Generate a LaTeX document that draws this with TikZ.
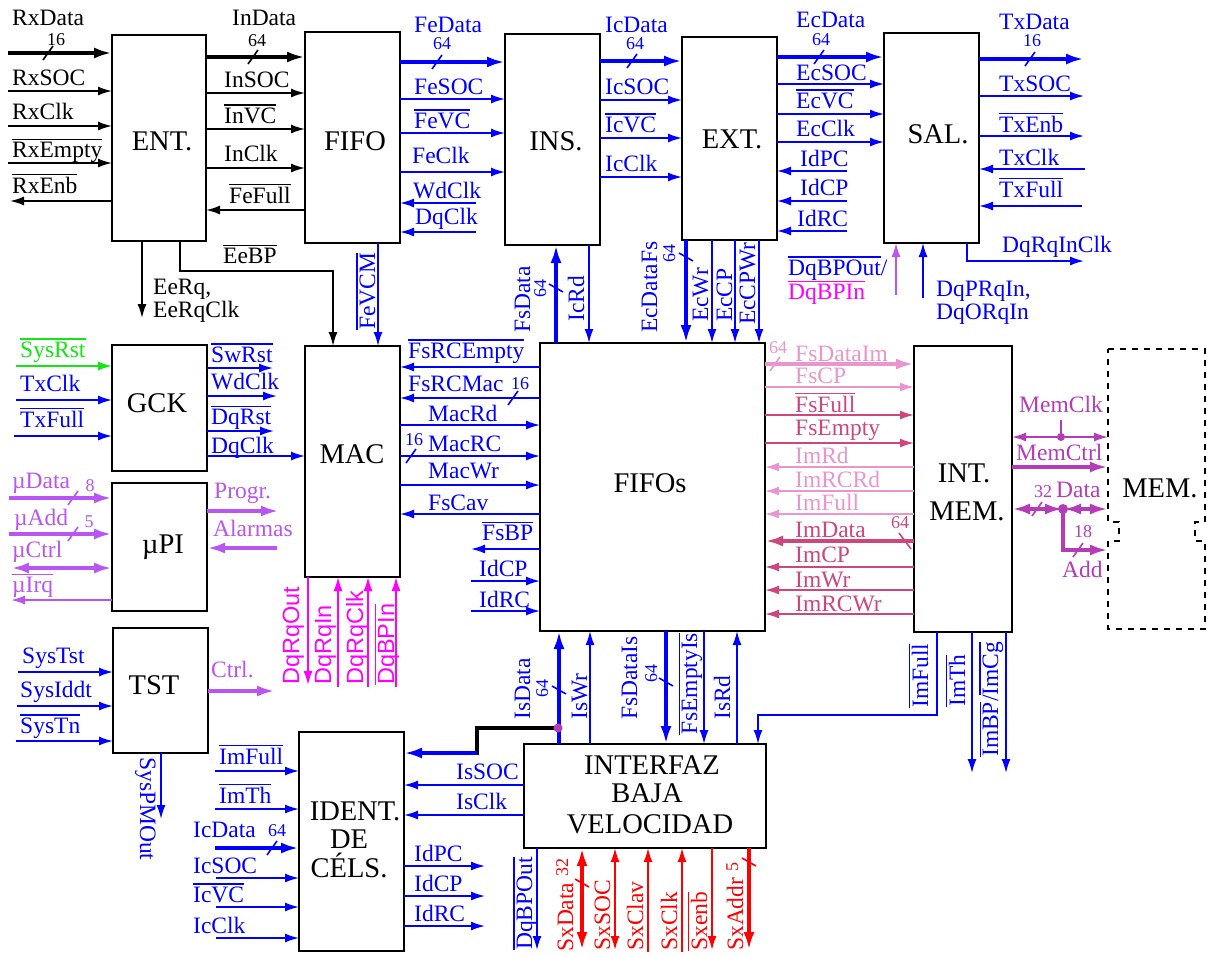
\documentclass[tikz,border=0pt]{standalone}
\usepackage{fontspec}
\setmainfont{Liberation Serif}
\newfontfamily\sansf{Liberation Sans}
\usetikzlibrary{arrows.meta}
\definecolor{pur}{RGB}{185,85,240}
\definecolor{mag}{RGB}{255,0,255}
\definecolor{lpk}{RGB}{232,150,205}
\definecolor{dpk}{RGB}{205,70,125}
\definecolor{memc}{RGB}{180,60,185}
\definecolor{grn}{RGB}{20,230,20}
\definecolor{sxr}{RGB}{255,0,0}
\definecolor{bl}{RGB}{0,0,255}
\newcommand\ol[1]{\vbox{\hrule height 1.2pt\kern 1.8pt\hbox{#1}}}
\newcommand\sigf{\fontsize{23.5}{25}\selectfont}
\newcommand\boxf{\fontsize{28.5}{31}\selectfont}
\newcommand\numf{\fontsize{18}{19}\selectfont}
\tikzset{
  box/.style={draw=black, line width=1.8pt, inner sep=0pt, outer sep=0pt, anchor=north west},
  blab/.style={anchor=base, inner sep=0pt, font=\boxf},
  lab/.style={anchor=base west, inner sep=0pt, font=\sigf},
  clab/.style={anchor=base, inner sep=0pt, font=\sigf},
  rlab/.style={anchor=base west, inner sep=0pt, font=\sigf, rotate=90},
  slab/.style={anchor=base west, inner sep=0pt, font=\sansf\sigf, rotate=90, text=mag},
  num/.style={anchor=base, inner sep=0pt, font=\numf},
  rnum/.style={anchor=base west, inner sep=0pt, font=\numf, rotate=90},
  thinl/.style={line width=1.6pt},
  busl/.style={line width=3.6pt},
  sarr/.style={thinl, -{Latex[length=14pt,width=9pt]}},
  sbi/.style={thinl, {Latex[length=14pt,width=9pt]}-{Latex[length=14pt,width=9pt]}},
  barr/.style={busl, -{Latex[length=18pt,width=11pt]}},
  bbi/.style={busl, {Latex[length=18pt,width=11pt]}-{Latex[length=18pt,width=11pt]}},
}
\begin{document}
\begin{tikzpicture}[x=1pt,y=-1pt]
\useasboundingbox (0,0) rectangle (1207,956);

% ---------------- boxes
\node[box,minimum width=94pt,minimum height=206pt] (ent) at (112,35) {};
\node[box,minimum width=95pt,minimum height=211pt] (fifo) at (305,32) {};
\node[box,minimum width=95pt,minimum height=211pt] (ins) at (505,34) {};
\node[box,minimum width=95pt,minimum height=203pt] (ext) at (682,37) {};
\node[box,minimum width=95pt,minimum height=210pt] (sal) at (884,33) {};
\node[box,minimum width=95pt,minimum height=126pt] (gck) at (112,345) {};
\node[box,minimum width=95pt,minimum height=128pt] (upi) at (112,483) {};
\node[box,minimum width=95pt,minimum height=125pt] (tst) at (113,628) {};
\node[box,minimum width=95pt,minimum height=231pt] (mac) at (305,346) {};
\node[box,minimum width=225pt,minimum height=288pt] (fifos) at (540,343) {};
\node[box,minimum width=98pt,minimum height=286pt] (intmem) at (914,346) {};
\node[box,minimum width=105pt,minimum height=219pt] (ident) at (299,732) {};
\node[box,minimum width=242pt,minimum height=104pt] (intf) at (524,744) {};
\node[inner sep=0pt,outer sep=0pt,anchor=north west,minimum width=97pt,minimum height=280pt] (mem) at (1108,349) {};
\draw[line width=1.5pt, dash pattern=on 6pt off 6pt] (mem.north west) -- (mem.north east) -- (1205,522) -- (1195,522) -- (1195,541) -- (1205,541) -- (mem.south east) -- (mem.south west) -- (1108,541) -- (1119,541) -- (1119,522) -- (1108,522) -- cycle;

% box titles
\node[blab] (tEnt) at (162,150) {ENT.};
\node[blab] (tFifo) at (355,150) {FIFO};
\node[blab] (tIns) at (556,150) {INS.};
\node[blab] (tExt) at (732,148) {EXT.};
\node[blab] (tSal) at (938,143) {SAL.};
\node[blab] (tGck) at (157,412) {GCK};
\node[blab] (tUpi) at (163,553) {µPI};
\node[blab] (tTst) at (154,694) {TST};
\node[blab] (tMac) at (352,463) {MAC};
\node[blab] (tFifos) at (650,492) {FIFOs};
\node[blab] (tInt1) at (964,482) {INT.};
\node[blab] (tInt2) at (967,520) {MEM.};
\node[blab] (tMem) at (1160,497) {MEM.};
\node[blab] (tId1) at (355,820) {IDENT.};
\node[blab] (tId2) at (349,848) {DE};
\node[blab] (tId3) at (349,877) {CÉLS.};
\node[blab] (tIf1) at (652,774) {INTERFAZ};
\node[blab] (tIf2) at (647,802) {BAJA};
\node[blab] (tIf3) at (650,833) {VELOCIDAD};

% ---------------- ENT (black)
\draw[barr] (8,53) -- (ent.west|-0,53);
\draw[thinl] (43,60) -- (53,46);
\draw[sarr] (8,91) -- (ent.west|-0,91);
\draw[sarr] (8,126) -- (ent.west|-0,126);
\draw[sarr] (8,163) -- (ent.west|-0,163);
\draw[sarr] (ent.west|-0,201) -- (10,201);
\draw[barr] (ent.east|-0,57) -- (fifo.west|-0,57);
\draw[thinl] (248,64) -- (258,50);
\draw[sarr] (ent.east|-0,93) -- (fifo.west|-0,93);
\draw[sarr] (ent.east|-0,129) -- (fifo.west|-0,129);
\draw[sarr] (ent.east|-0,168) -- (fifo.west|-0,168);
\draw[sarr] (fifo.west|-0,210) -- (ent.east|-0,210);
\draw[sarr] (ent.south-|142,0) -- (142,318);
\draw[sarr] (ent.south-|180,0) -- (180,271) -- (333,271) -- (mac.north-|333,0);

\node[lab] (lRxData) at (12,25) {RxData};
\node[num] (nRx) at (56,45) {16};
\node[lab] (lRxSOC) at (12,85) {RxSOC};
\node[lab] (lRxClk) at (12,119) {RxClk};
\node[lab] (lRxEmpty) at (12,157) {\ol{RxEmpty}};
\node[lab] (lRxEnb) at (12,193) {\ol{RxEnb}};
\node[lab] (lInData) at (232,25) {InData};
\node[num] (nIn) at (257,46) {64};
\node[lab] (lInSOC) at (224,87) {InSOC};
\node[lab] (lInVC) at (224,123) {\ol{InVC}};
\node[lab] (lInClk) at (224,161) {InClk};
\node[lab] (lFeFull) at (229,203) {\ol{FeFull}};
\node[lab] (lEeBP) at (223,263) {\ol{EeBP}};
\node[lab] (lEeRq) at (153,294) {EeRq,};
\node[lab] (lEeRqClk) at (153,317) {EeRqClk};

% ---------------- FIFO -> INS (blue)
\begin{scope}[bl]
\draw[barr] (fifo.east|-0,62) -- (ins.west|-0,62);
\draw[thinl] (432,69) -- (442,55);
\draw[sarr] (fifo.east|-0,99) -- (ins.west|-0,99);
\draw[sarr] (fifo.east|-0,133) -- (ins.west|-0,133);
\draw[sarr] (fifo.east|-0,172) -- (ins.west|-0,172);
\draw[sarr] (476,203) -- (fifo.east|-0,203);
\draw[sarr] (476,232) -- (fifo.east|-0,232);
\draw[sarr] (fifo.south-|378,0) -- (mac.north-|378,0);
% INS -> EXT
\draw[barr] (ins.east|-0,61) -- (ext.west|-0,61);
\draw[thinl] (627,68) -- (637,54);
\draw[sarr] (ins.east|-0,100) -- (ext.west|-0,100);
\draw[sarr] (ins.east|-0,138) -- (ext.west|-0,138);
\draw[sarr] (ins.east|-0,177) -- (ext.west|-0,177);
% EXT -> SAL
\draw[barr] (ext.east|-0,57) -- (sal.west|-0,57);
\draw[thinl] (814,64) -- (824,50);
\draw[sarr] (ext.east|-0,84) -- (sal.west|-0,84);
\draw[sarr] (ext.east|-0,114) -- (sal.west|-0,114);
\draw[sarr] (ext.east|-0,142) -- (sal.west|-0,142);
\draw[sarr] (847,171) -- (ext.east|-0,171);
\draw[sarr] (847,201) -- (ext.east|-0,201);
\draw[sarr] (847,231) -- (ext.east|-0,231);
% SAL right
\draw[barr] (sal.east|-0,59) -- (1084,59);
\draw[thinl] (1025,66) -- (1035,52);
\draw[sarr] (sal.east|-0,96) -- (1084,96);
\draw[sarr] (sal.east|-0,136) -- (1084,136);
\draw[sarr] (1085,169) -- (sal.east|-0,169);
\draw[sarr] (1082,206) -- (sal.east|-0,206);
\draw[sarr] (sal.south-|967,0) -- (967,261) -- (1084,261);
\draw[sarr] (923,298) -- (sal.south-|923,0);
% INS/EXT <-> FIFOs
\draw[barr] (fifos.north-|556,0) -- (ins.south-|556,0);
\draw[thinl] (549,284) -- (563,292);
\draw[sarr] (ins.south-|589,0) -- (fifos.north-|589,0);
\draw[barr] (ext.south-|686,0) -- (fifos.north-|686,0);
\draw[thinl] (679,253) -- (693,261);
\draw[sarr] (ext.south-|712,0) -- (fifos.north-|712,0);
\draw[sarr] (ext.south-|735,0) -- (fifos.north-|735,0);
\draw[sarr] (ext.south-|759,0) -- (fifos.north-|759,0);
\end{scope}
\draw[pur,sarr] (896,295) -- (sal.south-|896,0);

\begin{scope}[text=bl]
\node[lab] (lFeData) at (414,32) {FeData};
\node[num] (nFe) at (442,49) {64};
\node[lab] (lFeSOC) at (414,94) {FeSOC};
\node[lab] (lFeVC) at (414,128) {\ol{FeVC}};
\node[lab] (lFeClk) at (412,163) {FeClk};
\node[lab] (lWdClk1) at (413,198) {WdClk};
\node[lab] (lDqClk1) at (415,224) {DqClk};
\node[lab] (lIcData) at (605,32) {IcData};
\node[num] (nIc) at (635,49) {64};
\node[lab] (lIcSOC) at (605,94) {IcSOC};
\node[lab] (lIcVC) at (605,132) {\ol{IcVC}};
\node[lab] (lIcClk) at (605,171) {IcClk};
\node[lab] (lEcData) at (796,27) {EcData};
\node[num] (nEc) at (821,45) {64};
\node[lab] (lEcSOC) at (796,80) {EcSOC};
\node[lab] (lEcVC) at (796,108) {\ol{EcVC}};
\node[lab] (lEcClk) at (796,136) {EcClk};
\node[lab] (lIdPC1) at (800,166) {IdPC};
\node[lab] (lIdCP1) at (800,195) {IdCP};
\node[lab] (lIdRC1) at (797,226) {IdRC};
\node[lab] (lTxData) at (999,29) {TxData};
\node[num] (nTx) at (1032,46) {16};
\node[lab] (lTxSOC) at (999,91) {TxSOC};
\node[lab] (lTxEnb) at (999,132) {\ol{TxEnb}};
\node[lab] (lTxClk1) at (999,165) {TxClk};
\node[lab] (lTxFull1) at (999,197) {\ol{TxFull}};
\node[lab] (lDqRqInClk) at (1002,252) {DqRqInClk};
\node[lab] (lDqBPOut1) at (788,275) {\ol{DqBPOut}/};
\node[lab,text=mag] (lDqBPIn1) at (788,299) {\ol{DqBPIn}};
\node[lab] (lDqPRqIn) at (936,296) {DqPRqIn,};
\node[lab] (lDqORqIn) at (936,319) {DqORqIn};
\node[rlab] (lFsData) at (530,333) {FsData};
\node[rnum] (nFs) at (546,298) {64};
\node[rlab] (lIcRd) at (584,322) {IcRd};
\node[rlab] (lEcDataFs) at (657,333) {EcDataFs};
\node[rnum] (nEcFs) at (675,263) {64};
\node[rlab] (lEcWr) at (708,322) {EcWr};
\node[rlab] (lEcCP) at (732,322) {EcCP};
\node[rlab] (lEcCPWr) at (755,325) {EcCPWr};
\node[rlab] (lFeVCM) at (375,330) {\ol{FeVCM}};
\end{scope}

% ---------------- GCK
\draw[grn,sarr] (16,366) -- (gck.west|-0,366);
\begin{scope}[bl]
\draw[sarr] (16,400) -- (gck.west|-0,400);
\draw[sarr] (14,436) -- (gck.west|-0,436);
\draw[sarr] (gck.east|-0,368) -- (273,368);
\draw[sarr] (gck.east|-0,396) -- (277,396);
\draw[sarr] (gck.east|-0,431) -- (274,431);
\draw[sarr] (gck.east|-0,456) -- (mac.west|-0,456);
\end{scope}
\node[lab,text=grn] (lSysRst) at (20,357) {\ol{SysRst}};
\begin{scope}[text=bl]
\node[lab] (lTxClk2) at (20,391) {TxClk};
\node[lab] (lTxFull2) at (20,427) {\ol{TxFull}};
\node[lab] (lSwRst) at (211,362) {\ol{SwRst}};
\node[lab] (lWdClk2) at (211,389) {WdClk};
\node[lab] (lDqRst) at (211,424) {\ol{DqRst}};
\node[lab] (lDqClk2) at (211,453) {DqClk};
\end{scope}

% ---------------- uPI
\begin{scope}[pur]
\draw[barr] (9,498) -- (upi.west|-0,498);
\draw[thinl] (68,505) -- (78,491);
\draw[barr] (9,534) -- (upi.west|-0,534);
\draw[thinl] (68,541) -- (78,527);
\draw[bbi] (11,568) -- (upi.west|-0,568);
\draw[sarr] (upi.west|-0,600) -- (11,600);
\draw[barr] (upi.east|-0,511) -- (279,511);
\draw[barr] (277,548) -- (upi.east|-0,548);
\draw[barr] (tst.east|-0,691) -- (275,691);
\end{scope}
\begin{scope}[text=pur]
\node[lab] (lUData) at (12,488) {µData};
\node[num] (nU8) at (90,491) {8};
\node[lab] (lUAdd) at (14,525) {µAdd};
\node[num] (nU5) at (89,527) {5};
\node[lab] (lUCtrl) at (12,557) {µCtrl};
\node[lab] (lUIrq) at (12,592) {\ol{µIrq}};
\node[lab] (lProgr) at (214,498) {Progr.};
\node[lab] (lAlarmas) at (213,536) {Alarmas};
\node[lab] (lCtrl) at (211,677) {Ctrl.};
\end{scope}

% ---------------- TST
\begin{scope}[bl]
\draw[sarr] (18,672) -- (tst.west|-0,672);
\draw[sarr] (17,706) -- (tst.west|-0,706);
\draw[sarr] (16,741) -- (tst.west|-0,741);
\draw[sarr] (tst.south-|161,0) -- (161,819);
\end{scope}
\begin{scope}[text=bl]
\node[lab] (lSysTst) at (22,663) {SysTst};
\node[lab] (lSysIddt) at (20,697) {SysIddt};
\node[lab] (lSysTn) at (20,733) {\ol{SysTn}};
\node[lab,rotate=-90] (lSysPMOut) at (140,757) {SysPMOut};
\end{scope}

% ---------------- MAC <-> FIFOs
\begin{scope}[bl]
\draw[sarr] (fifos.west|-0,367) -- (mac.east|-0,367);
\draw[sarr] (fifos.west|-0,398) -- (mac.east|-0,398);
\draw[thinl] (508,405) -- (518,391);
\draw[sarr] (mac.east|-0,425) -- (fifos.west|-0,425);
\draw[sarr] (mac.east|-0,456) -- (fifos.west|-0,456);
\draw[thinl] (406,463) -- (416,449);
\draw[sarr] (mac.east|-0,485) -- (fifos.west|-0,485);
\draw[sarr] (fifos.west|-0,514) -- (mac.east|-0,514);
\draw[sarr] (fifos.west|-0,549) -- (471,549);
\draw[sarr] (471,581) -- (fifos.west|-0,581);
\draw[sarr] (471,611) -- (fifos.west|-0,611);
\end{scope}
\begin{scope}[text=bl]
\node[lab] (lFsRCEmpty) at (408,358) {\ol{FsRCEmpty}};
\node[lab] (lFsRCMac) at (408,391) {FsRCMac};
\node[num] (nRCMac) at (520,389) {16};
\node[lab] (lMacRd) at (428,421) {MacRd};
\node[num] (nMacRC) at (414,445) {16};
\node[lab] (lMacRC) at (428,451) {MacRC};
\node[lab] (lMacWr) at (428,478) {MacWr};
\node[lab] (lFsCav) at (428,510) {FsCav};
\node[lab] (lFsBP) at (482,540) {\ol{FsBP}};
\node[lab] (lIdCP2) at (479,576) {IdCP};
\node[lab] (lIdRC2) at (479,607) {IdRC};
\end{scope}

% MAC bottom (magenta)
\begin{scope}[mag]
\draw[sarr] (mac.south-|308,0) -- (308,685);
\draw[sarr] (338,687) -- (mac.south-|338,0);
\draw[sarr] (368,687) -- (mac.south-|368,0);
\draw[sarr] (396,687) -- (mac.south-|396,0);
\end{scope}
\node[slab] (lDqRqOut) at (299,685) {DqRqOut};
\node[slab] (lDqRqIn) at (331,685) {DqRqIn};
\node[slab] (lDqRqClk) at (363,685) {DqRqClk};
\node[slab] (lDqBPIn2) at (394,685) {\ol{DqBPIn}};

% ---------------- FIFOs <-> INT. MEM.
\draw[lpk,barr] (fifos.east|-0,364) -- (intmem.west|-0,364);
\draw[lpk,thinl] (770,371) -- (780,357);
\draw[lpk,sarr] (fifos.east|-0,387) -- (intmem.west|-0,387);
\draw[dpk,sarr] (fifos.east|-0,415) -- (intmem.west|-0,415);
\draw[dpk,sarr] (fifos.east|-0,443) -- (intmem.west|-0,443);
\draw[lpk,sarr] (intmem.west|-0,467) -- (fifos.east|-0,467);
\draw[lpk,sarr] (intmem.west|-0,491) -- (fifos.east|-0,491);
\draw[lpk,sarr] (intmem.west|-0,514) -- (fifos.east|-0,514);
\draw[dpk,barr] (intmem.west|-0,541) -- (fifos.east|-0,541);
\draw[dpk,thinl] (899,533) -- (911,549);
\draw[dpk,sarr] (intmem.west|-0,567) -- (fifos.east|-0,567);
\draw[dpk,sarr] (intmem.west|-0,590) -- (fifos.east|-0,590);
\draw[dpk,sarr] (intmem.west|-0,614) -- (fifos.east|-0,614);
\node[num,text=lpk] (nFsIm) at (778,353) {64};
\node[lab,text=lpk] (lFsDataIm) at (795,361) {FsDataIm};
\node[lab,text=lpk] (lFsCP) at (795,383) {FsCP};
\node[lab,text=dpk] (lFsFull) at (795,412) {\ol{FsFull}};
\node[lab,text=dpk] (lFsEmpty) at (795,435) {FsEmpty};
\node[lab,text=lpk] (lImRd) at (795,463) {ImRd};
\node[lab,text=lpk] (lImRCRd) at (795,487) {ImRCRd};
\node[lab,text=lpk] (lImFull1) at (795,510) {\ol{ImFull}};
\node[lab,text=dpk] (lImData) at (795,537) {ImData};
\node[num,text=dpk] (nImData) at (900,528) {64};
\node[lab,text=dpk] (lImCP) at (795,562) {ImCP};
\node[lab,text=dpk] (lImWr) at (795,587) {ImWr};
\node[lab,text=dpk] (lImRCWr) at (795,611) {ImRCWr};

% ---------------- INT. MEM. <-> MEM.
\begin{scope}[memc]
\draw[sbi] (intmem.east|-0,437) -- (mem.west|-0,437);
\draw[thinl] (1061,437) -- (1061,420);
\fill (1061,437) circle (4);
\draw[barr] (intmem.east|-0,467) -- (mem.west|-0,467);
\coordinate (dj) at (1063,509);
\draw[bbi] (dj) -- (intmem.east|-0,509);
\draw[bbi] (dj) -- (mem.west|-0,509);
\draw[thinl] (1032,516) -- (1042,502);
\draw[barr] (dj) -- (1063,550) -- (mem.west|-0,550);
\draw[thinl] (1073,557) -- (1083,543);
\fill (dj) circle (5);
\end{scope}
\begin{scope}[text=memc]
\node[clab] (lMemClk) at (1061,412) {MemClk};
\node[lab] (lMemCtrl) at (1016,460) {MemCtrl};
\node[num] (nData) at (1043,497) {32};
\node[lab] (lData) at (1056,497) {Data};
\node[num] (nAdd) at (1083,537) {18};
\node[lab] (lAdd) at (1062,577) {Add};
\end{scope}

% ---------------- INT. MEM. bottom
\begin{scope}[bl]
\draw[sarr] (intmem.south-|937,0) -- (937,715) -- (758,715) -- (intf.north-|758,0);
\draw[sarr] (intmem.south-|972,0) -- (972,773);
\draw[sarr] (intmem.south-|1006,0) -- (1006,773);
\end{scope}
\begin{scope}[text=bl]
\node[rlab] (lImFull2) at (928,708) {\ol{ImFull}};
\node[rlab] (lImTh2) at (965,707) {\ol{ImTh}};
\node[rlab] (lImBP) at (998,757) {\ol{ImBP}/\ol{ImCg}};
\end{scope}

% ---------------- FIFOs <-> INTERFAZ
\draw[line width=3.6pt] (558,728) -- (477,728) -- (477,755);
\begin{scope}[bl]
\draw[barr] (intf.north-|559,0) -- (fifos.south-|559,0);
\draw[thinl] (552,686) -- (566,694);
\draw[barr] (477,753) -- (ident.east|-0,753);
\draw[sarr] (intf.north-|590,0) -- (fifos.south-|590,0);
\draw[barr] (fifos.south-|666,0) -- (intf.north-|666,0);
\draw[thinl] (659,678) -- (673,686);
\draw[sarr] (fifos.south-|704,0) -- (intf.north-|704,0);
\draw[sarr] (intf.north-|737,0) -- (fifos.south-|737,0);
\draw[sarr] (intf.west|-0,785) -- (ident.east|-0,785);
\draw[sarr] (intf.west|-0,815) -- (ident.east|-0,815);
\draw[sarr] (intf.south-|537,0) -- (537,950);
\end{scope}
\fill[memc] (558,728) circle (4.5);
\begin{scope}[text=bl]
\node[rlab] (lIsData) at (530,720) {IsData};
\node[rnum] (nIs) at (548,698) {64};
\node[rlab] (lIsWr) at (587,720) {IsWr};
\node[rlab] (lFsDataIs) at (637,720) {FsDataIs};
\node[rnum] (nFsIs) at (657,683) {64};
\node[rlab] (lFsEmptyIs) at (697,735) {\ol{FsEmptyIs}};
\node[rlab] (lIsRd) at (730,720) {IsRd};
\node[lab] (lIsSOC) at (456,779) {IsSOC};
\node[lab] (lIsClk) at (456,809) {IsClk};
\node[rlab] (lDqBPOut2) at (532,950) {\ol{DqBPOut}};
\end{scope}

% INTERFAZ bottom (red)
\begin{scope}[sxr]
\draw[bbi] (intf.south-|582,0) -- (582,950);
\draw[thinl] (575,879) -- (589,887);
\draw[sbi] (intf.south-|615,0) -- (615,950);
\draw[sarr] (648,952) -- (intf.south-|648,0);
\draw[sarr] (682,952) -- (intf.south-|682,0);
\draw[sarr] (intf.south-|712,0) -- (712,950);
\draw[barr] (intf.south-|749,0) -- (749,950);
\draw[thinl] (742,858) -- (756,866);
\end{scope}
\begin{scope}[text=sxr]
\node[rlab] (lSxData) at (573,952) {SxData};
\node[rnum] (nSx) at (568,877) {32};
\node[rlab] (lSxSOC) at (610,951) {SxSOC};
\node[rlab] (lSxClav) at (643,951) {SxClav};
\node[rlab] (lSxClk) at (677,951) {SxClk};
\node[rlab] (lSxenb) at (707,951) {\ol{Sxenb}};
\node[rlab] (lSxAddr) at (743,951) {SxAddr};
\node[rnum] (nSxA) at (738,872) {5};
\end{scope}

% ---------------- IDENT.
\begin{scope}[bl]
\draw[sarr] (215,771) -- (ident.west|-0,771);
\draw[sarr] (215,809) -- (ident.west|-0,809);
\draw[barr] (215,848) -- (ident.west|-0,848);
\draw[thinl] (267,855) -- (277,841);
\draw[sarr] (216,878) -- (ident.west|-0,878);
\draw[sarr] (216,907) -- (ident.west|-0,907);
\draw[sarr] (216,938) -- (ident.west|-0,938);
\draw[sarr] (ident.east|-0,866) -- (485,866);
\draw[sarr] (ident.east|-0,896) -- (485,896);
\draw[sarr] (ident.east|-0,926) -- (485,926);
\end{scope}
\begin{scope}[text=bl]
\node[lab] (lImFull3) at (219,764) {\ol{ImFull}};
\node[lab] (lImTh3) at (219,803) {\ol{ImTh}};
\node[lab] (lIcData2) at (193,837) {IcData};
\node[num] (nIc2) at (277,836) {64};
\node[lab] (lIcSOC2) at (193,873) {IcSOC};
\node[lab] (lIcVC2) at (193,902) {\ol{IcVC}};
\node[lab] (lIcClk2) at (193,933) {IcClk};
\node[lab] (lIdPC3) at (414,861) {IdPC};
\node[lab] (lIdCP3) at (414,891) {IdCP};
\node[lab] (lIdRC3) at (414,921) {IdRC};
\end{scope}
\end{tikzpicture}
\end{document}
